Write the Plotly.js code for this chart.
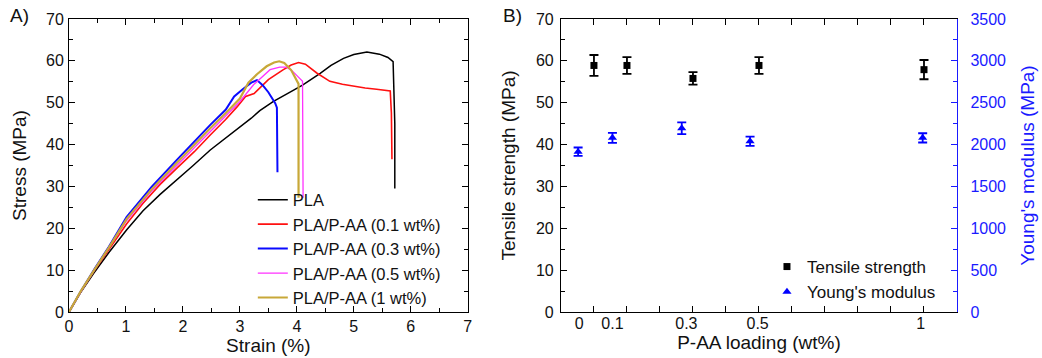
<!DOCTYPE html>
<html>
<head>
<meta charset="utf-8">
<script src="https://cdn.plot.ly/plotly-3.0.1.min.js"></script>
<style>html,body{margin:0;padding:0;background:#fff;}#chart{width:1042px;height:358px;}</style>
</head>
<body>
<div id="chart"></div>
<script>
// ---- Panel A: stress-strain curves ----
const plaStrain   = [0,0.2,0.43,0.7,1.01,1.3,1.6,1.89,2.18,2.48,2.75,2.94,3.2,3.35,3.59,3.85,4.1,4.41,4.6,4.82,5.0,5.23,5.45,5.6,5.69,5.72,5.72];
const plaStress   = [0,4.6,9.2,14.2,19.6,24.2,28.1,31.5,35.0,38.7,41.5,43.5,46.3,48.1,50.3,52.3,54.2,57.0,58.9,60.6,61.5,62.1,61.6,60.8,59.8,45,29.5];

const p01Strain   = [0,0.2,0.45,0.7,1.01,1.3,1.6,1.89,2.2,2.48,2.75,2.95,3.1,3.25,3.35,3.5,3.75,3.9,4.03,4.15,4.35,4.58,4.8,4.99,5.2,5.4,5.64,5.66,5.67];
const p01Stress   = [0,4.7,10,15,21,26,30.5,34.3,38.3,42.3,46,49,51.5,52.2,53.5,55.5,57.8,59.0,59.6,59.2,57.1,55.1,54.4,53.9,53.5,53.2,52.8,47.5,36.5];

const p03Strain   = [0,0.2,0.45,0.7,1.01,1.45,1.89,2.2,2.48,2.75,2.9,3.05,3.2,3.3,3.4,3.5,3.62,3.65,3.66];
const p03Stress   = [0,4.8,10.3,15.6,22.7,29.9,36.3,40.8,44.7,48.3,51.5,53.2,54.8,55.4,54.2,52.5,49.9,48.8,33.4];

const p05Strain   = [0,0.2,0.45,0.7,1.01,1.45,1.89,2.2,2.48,2.75,3.0,3.24,3.4,3.53,3.7,3.82,3.92,4.02,4.10,4.11];
const p05Stress   = [0,4.7,10.1,15.2,21.8,28.9,35,39.3,43.2,46.8,50.3,54.3,56.3,57.9,58.5,58.5,57.6,56.3,55.1,27.3];

const p1Strain    = [0,0.2,0.45,0.7,1.01,1.45,1.89,2.2,2.48,2.75,3.0,3.15,3.3,3.47,3.6,3.69,3.78,3.9,4.0,4.03,4.03];
const p1Stress    = [0,4.8,10.2,15.4,22.2,29.3,35.6,40,43.9,47.5,51,54.8,56.8,58.7,59.6,59.9,59.5,57.8,55.5,54.5,27.3];

const curveNames  = ['PLA','PLA/P-AA (0.1 wt%)','PLA/P-AA (0.3 wt%)','PLA/P-AA (0.5 wt%)','PLA/P-AA (1 wt%)'];

// ---- Panel B: tensile strength & Young's modulus vs loading ----
const strengthPos = [1,2,4,6,11];
const strength    = [58.9,58.9,55.8,58.9,57.9];
const strengthErr = [2.5,2.0,1.5,2.0,2.3];

const modulusPos  = [0.52,1.56,3.66,5.73,10.96];
const modulus     = [1915,2080,2195,2040,2080];
const modulusErr  = [50,60,70,55,55];

const loadingLabelPos = [0.55,1.56,3.8,5.96,10.9];
const loadingLabels   = ['0','0.1','0.3','0.5','1'];

const FONT = 'Liberation Sans, Arial, sans-serif';
const TXT = '#111';
const BLUE = '#1a1aff';

const lineStyles = [
  {color:'#000000', width:1.5},
  {color:'#ff1010', width:1.6},
  {color:'#0a0aff', width:2},
  {color:'#ff30ff', width:1.3},
  {color:'#c8a838', width:2.2}
];
const xs = [plaStrain,p01Strain,p03Strain,p05Strain,p1Strain];
const ys = [plaStress,p01Stress,p03Stress,p05Stress,p1Stress];

const traces = xs.map((x,i)=>({
  type:'scatter', mode:'lines', x:x, y:ys[i], name:curveNames[i],
  line:lineStyles[i], xaxis:'x', yaxis:'y', legend:'legend'
}));

traces.push({
  type:'scatter', mode:'markers', x:strengthPos, y:strength, name:'Tensile strength',
  marker:{symbol:'square', size:7, color:'#000'},
  error_y:{type:'data', array:strengthErr, visible:true, color:'#000', thickness:1.8, width:4.5},
  xaxis:'x2', yaxis:'y2', legend:'legend2'
});
traces.push({
  type:'scatter', mode:'markers', x:modulusPos, y:modulus, name:"Young's modulus",
  marker:{symbol:'triangle-up', size:8, color:'#0000ff'},
  error_y:{type:'data', array:modulusErr, visible:true, color:'#0000ff', thickness:1.8, width:4.5},
  xaxis:'x3', yaxis:'y3', legend:'legend2'
});

const tickFont = {family:FONT, size:16, color:TXT};
const titleFont = {family:FONT, size:19, color:TXT};

const layout = {
  width:1042, height:358,
  margin:{l:69, r:85, t:19, b:46},
  paper_bgcolor:'#fff', plot_bgcolor:'#fff',
  font:{family:FONT, color:TXT},
  showlegend:true,
  xaxis:{
    domain:[0,0.449], range:[0,7], dtick:1, tick0:0,
    ticks:'inside', ticklen:6, tickwidth:1, tickcolor:'#000',
    minor:{dtick:0.5, ticks:'inside', ticklen:4, tickcolor:'#000'},
    showline:true, linecolor:'#000', linewidth:1, mirror:'ticks',
    showgrid:false, zeroline:false, tickfont:tickFont,
    title:{text:'Strain (%)', font:titleFont, standoff:3}
  },
  yaxis:{
    range:[0,70], dtick:10, tick0:0,
    ticks:'inside', ticklen:6, tickwidth:1, tickcolor:'#000',
    minor:{dtick:5, ticks:'inside', ticklen:4, tickcolor:'#000'},
    showline:true, linecolor:'#000', linewidth:1, mirror:'ticks',
    showgrid:false, zeroline:false, tickfont:tickFont, ticklabelstandoff:1,
    title:{text:'Stress (MPa)', font:titleFont, standoff:14}
  },
  xaxis2:{
    domain:[0.554,1], anchor:'y2', range:[0,12], dtick:1, tick0:0,
    ticks:'inside', ticklen:6, tickwidth:1, tickcolor:'#000',
    showticklabels:false,
    showline:true, linecolor:'#000', linewidth:1, mirror:'ticks',
    showgrid:false, zeroline:false
  },
  xaxis3:{
    overlaying:'x2', anchor:'y2', side:'bottom', range:[0,12],
    tickmode:'array', tickvals:loadingLabelPos, ticktext:loadingLabels,
    ticks:'', showline:false, showgrid:false, zeroline:false, tickfont:tickFont,
    title:{text:'P-AA loading (wt%)', font:titleFont, standoff:3}
  },
  yaxis2:{
    anchor:'x2', range:[0,70], dtick:10, tick0:0,
    ticks:'inside', ticklen:6, tickwidth:1, tickcolor:'#000',
    minor:{dtick:5, ticks:'inside', ticklen:4, tickcolor:'#000'},
    showline:true, linecolor:'#000', linewidth:1,
    showgrid:false, zeroline:false, tickfont:tickFont, ticklabelstandoff:3,
    title:{text:'Tensile strength (MPa)', font:titleFont, standoff:15}
  },
  yaxis3:{
    anchor:'x2', overlaying:'y2', side:'right', range:[0,3500], dtick:500, tick0:0,
    ticks:'inside', ticklen:6, tickwidth:1, tickcolor:BLUE,
    minor:{dtick:250, ticks:'inside', ticklen:4, tickcolor:BLUE},
    showline:true, linecolor:BLUE, linewidth:1.2,
    showgrid:false, zeroline:false, tickfont:{family:FONT, size:16, color:BLUE},
    ticklabelstandoff:9,
    title:{text:"Young's modulus (MPa)", font:{family:FONT, size:19, color:BLUE}, standoff:15}
  },
  legend:{
    x:0.207, y:0.442, xanchor:'left', yanchor:'top',
    bgcolor:'rgba(0,0,0,0)', borderwidth:0,
    font:{family:FONT, size:16.5, color:TXT}, tracegroupgap:0
  },
  legend2:{
    x:0.786, y:0.215, xanchor:'left', yanchor:'top',
    bgcolor:'rgba(0,0,0,0)', borderwidth:0,
    font:{family:FONT, size:17, color:TXT}
  },
  annotations:[
    {text:'A)', xref:'paper', yref:'paper', x:-0.069, y:1.012, xanchor:'left', yanchor:'middle',
     showarrow:false, font:{family:FONT, size:19, color:TXT}},
    {text:'B)', xref:'paper', yref:'paper', x:0.487, y:1.012, xanchor:'left', yanchor:'middle',
     showarrow:false, font:{family:FONT, size:19, color:TXT}}
  ]
};

Plotly.newPlot('chart', traces, layout, {displayModeBar:false, staticPlot:true});
</script>
</body>
</html>
